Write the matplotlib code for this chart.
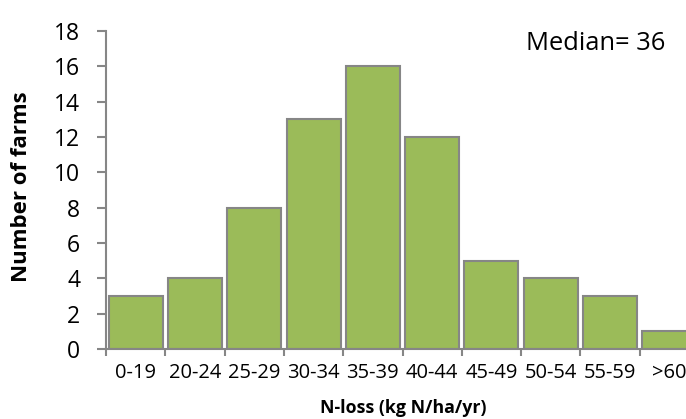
import matplotlib
matplotlib.use("Agg")
import matplotlib.pyplot as plt
import numpy as np

categories = ["0-19", "20-24", "25-29", "30-34", "35-39", "40-44",
              "45-49", "50-54", "55-59", ">60"]
farms = [3, 4, 8, 13, 16, 12, 5, 4, 3, 1]
y_ticks = [0, 2, 4, 6, 8, 10, 12, 14, 16, 18]
median_label = "Median= 36"

plt.rcParams["font.family"] = ["Open Sans", "DejaVu Sans"]

W, H = 686, 419
fig = plt.figure(figsize=(W / 100, H / 100), dpi=100)
# plot area runs slightly past the right edge of the figure
ax = fig.add_axes([106 / W, 70 / H, 593 / W, 318 / H])

axis_grey = "#868686"
x = np.arange(len(categories))
ax.bar(x, farms, width=0.91, color="#9BBB59", edgecolor=axis_grey,
       linewidth=1.5, zorder=2)

ax.set_xlim(-0.5, len(categories) - 0.5)
ax.set_ylim(0, 18)
ax.set_yticks(y_ticks)
ax.set_yticklabels([str(v) for v in y_ticks], fontsize=16.5)
ax.set_xticks(x)
ax.set_xticklabels(categories, fontsize=14.5)
ax.set_xticks(np.arange(len(categories) + 1) - 0.5, minor=True)

for s in ("top", "right"):
    ax.spines[s].set_visible(False)
for s in ("left", "bottom"):
    ax.spines[s].set_color(axis_grey)
    ax.spines[s].set_linewidth(1.5)

ax.tick_params(axis="y", direction="out", length=6.5, width=1.5,
               color=axis_grey, pad=12)
ax.tick_params(axis="x", which="major", length=0, pad=10)
ax.tick_params(axis="x", which="minor", direction="out", length=5,
               width=1.5, color=axis_grey)

# axis titles placed in figure coordinates
fig.text(22 / W, 1 - 187 / H, "Number of farms", fontsize=16,
         fontweight="bold", rotation=90, ha="center", va="center")
fig.text(403 / W, 1 - 408 / H, "N-loss (kg N/ha/yr)", fontsize=12.8,
         fontweight="bold", ha="center", va="center")

fig.text(526 / W, 1 - 44 / H, median_label, fontsize=18.4,
         ha="left", va="center")

fig.savefig("out.png", dpi=100)
